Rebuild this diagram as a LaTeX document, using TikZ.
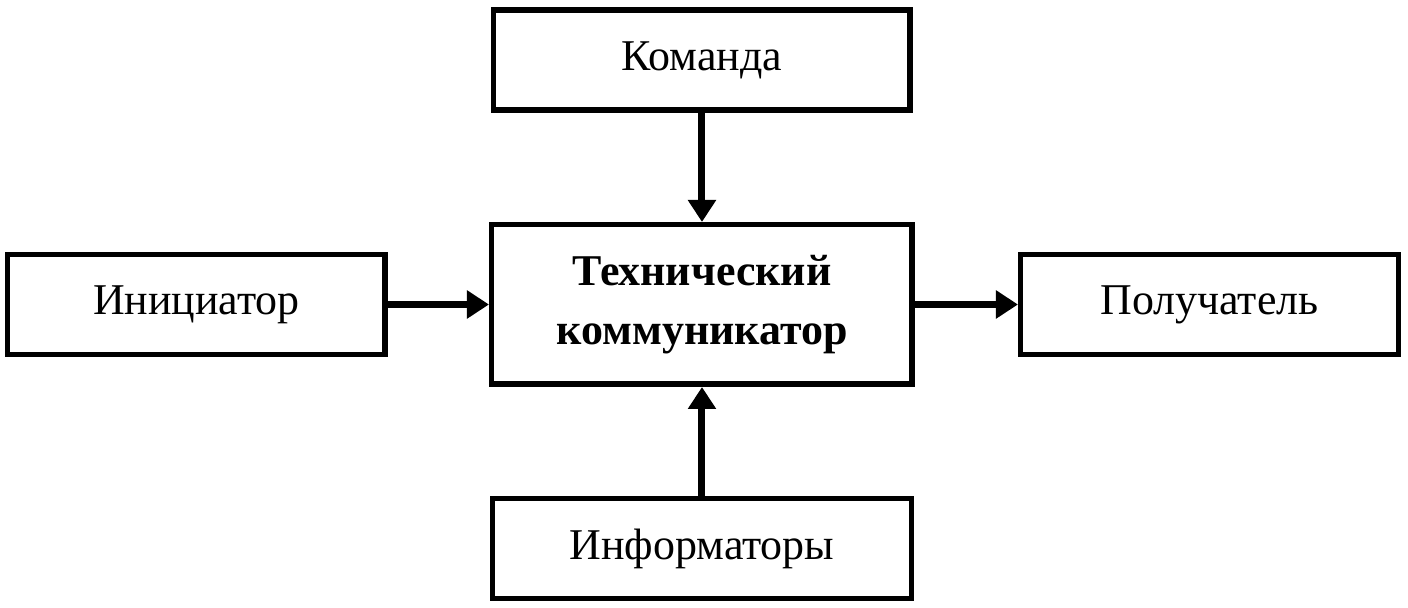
\documentclass[tikz,border=0pt]{standalone}
\usepackage{fontspec}
\setmainfont{Liberation Serif}
\usetikzlibrary{positioning,arrows.meta}

\begin{document}
\begin{tikzpicture}[%
        ->,
        >={Triangle[length=0.44cm,width=0.54cm]},
        node distance=2.18cm and 2.04cm,
        block/.style={%
          rectangle,
          draw,
          line width=0.11cm,
          minimum width=8.33cm,
          minimum height=2.0cm,
          inner sep=0pt,
          font=\fontsize{25}{34}\selectfont
        },
        link/.style={line width=0.14cm}
      ]
      \useasboundingbox (-14.04,-6.07) rectangle (14.12,6.09);
      \node[block,minimum width=8.41cm,minimum height=3.19cm,align=center,
        font=\fontsize{25}{34}\selectfont\bfseries] (1) {Технический\\коммуникатор};
      \node[block] (2) [above=of 1] {Команда};
      \node[block,minimum width=8.38cm] (3) [below=of 1] {Информаторы};
      \node[block,minimum width=7.55cm] (4) [left=2.02cm of 1] {Инициатор};
      \node[block,minimum width=7.55cm] (5) [right=2.06cm of 1] {Получатель};
      \path (2) edge [link] node {} (1)
      (3) edge [link] node {} (1)
      (4) edge [link] node {} (1)
      (1) edge [link] node {} (5);
  \end{tikzpicture}
\end{document}
